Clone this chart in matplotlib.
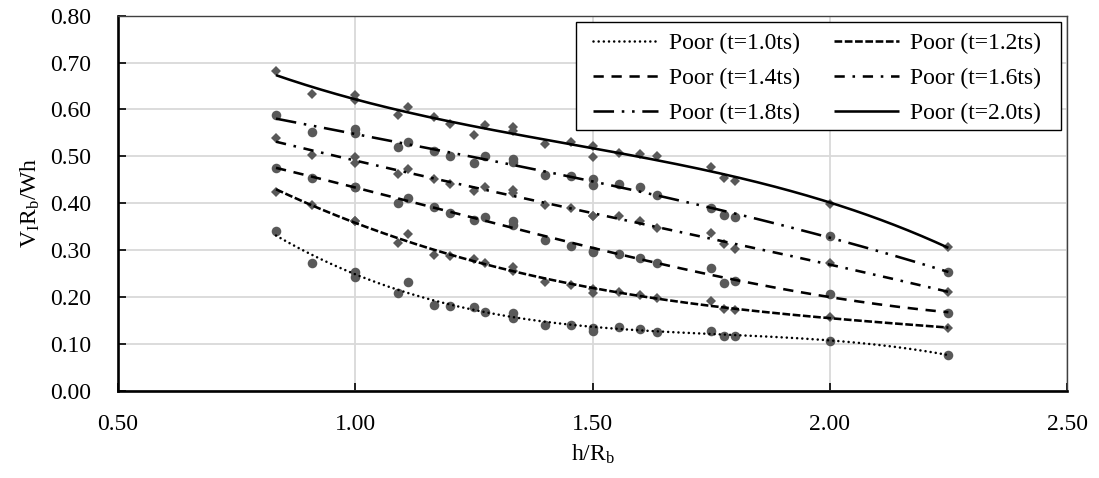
import numpy as np
import matplotlib
matplotlib.use("Agg")
import matplotlib.pyplot as plt
from matplotlib.patches import Rectangle

plt.rcParams['font.family'] = ['Liberation Serif', 'DejaVu Serif']
plt.rcParams['mathtext.fontset'] = 'custom'
plt.rcParams['mathtext.rm'] = 'Liberation Serif'
plt.rcParams['mathtext.it'] = 'Liberation Serif:italic'

# h/Rb values (shared by all series)
x_vals = [0.833, 0.909, 1.0, 1.0, 1.091, 1.111, 1.167, 1.2, 1.25, 1.273, 1.333, 1.333,
          1.4, 1.455, 1.5, 1.5, 1.556, 1.6, 1.636, 1.75, 1.778, 1.8, 2.0, 2.25]

y_t10 = [0.341, 0.272, 0.254, 0.243, 0.208, 0.232, 0.183, 0.181, 0.179, 0.167, 0.165, 0.156,
         0.140, 0.140, 0.134, 0.128, 0.135, 0.132, 0.126, 0.128, 0.117, 0.117, 0.107, 0.076]
y_t12 = [0.424, 0.397, 0.362, 0.362, 0.316, 0.334, 0.290, 0.287, 0.280, 0.273, 0.264, 0.256,
         0.231, 0.225, 0.216, 0.209, 0.211, 0.204, 0.197, 0.192, 0.175, 0.172, 0.157, 0.133]
y_t14 = [0.476, 0.453, 0.435, 0.435, 0.401, 0.411, 0.391, 0.380, 0.364, 0.371, 0.362, 0.353,
         0.321, 0.309, 0.298, 0.296, 0.291, 0.284, 0.273, 0.261, 0.230, 0.235, 0.206, 0.165]
y_t16 = [0.539, 0.502, 0.499, 0.485, 0.462, 0.472, 0.452, 0.441, 0.426, 0.434, 0.429, 0.421,
         0.396, 0.389, 0.372, 0.372, 0.373, 0.362, 0.348, 0.336, 0.313, 0.302, 0.272, 0.211]
y_t18 = [0.589, 0.551, 0.558, 0.549, 0.520, 0.531, 0.512, 0.500, 0.486, 0.500, 0.495, 0.488,
         0.460, 0.458, 0.451, 0.439, 0.441, 0.434, 0.417, 0.390, 0.375, 0.370, 0.330, 0.254]
y_t20 = [0.682, 0.634, 0.630, 0.620, 0.588, 0.605, 0.583, 0.570, 0.545, 0.566, 0.563, 0.554,
         0.526, 0.531, 0.522, 0.499, 0.508, 0.506, 0.500, 0.478, 0.454, 0.448, 0.398, 0.307]

series_labels = ['Poor (t=1.0ts)', 'Poor (t=1.2ts)', 'Poor (t=1.4ts)',
                 'Poor (t=1.6ts)', 'Poor (t=1.8ts)', 'Poor (t=2.0ts)']
x_ticks = [0.50, 1.00, 1.50, 2.00, 2.50]
y_ticks = [0.00, 0.10, 0.20, 0.30, 0.40, 0.50, 0.60, 0.70, 0.80]

series_y = [y_t10, y_t12, y_t14, y_t16, y_t18, y_t20]
markers = ['o', 'D', 'o', 'D', 'o', 'D']
msizes = [6.9, 5.2, 6.9, 5.2, 6.9, 5.2]
styles = [(0, (0.01, 2.0)), (0, (3, 1)), (0, (4, 3)), (0, (4, 3, 1, 3)),
          (0, (8, 3, 1, 3, 1, 3)), '-']
caps = ['round', 'butt', 'butt', 'butt', 'butt', 'butt']

W, H = 1099, 478
fig = plt.figure(figsize=(W / 100, H / 100), dpi=100)
ax = fig.add_axes([118 / W, 1 - 390.7 / H, (1067 - 118) / W, (390.7 - 15.7) / H])

mcol = '#595959'
lw = 1.85
handles = []
x_arr = np.array(x_vals)
for ys, mk, ms, ls, cap, lab in zip(series_y, markers, msizes, styles, caps, series_labels):
    y_arr = np.array(ys)
    ax.plot(x_arr, y_arr, linestyle='none', marker=mk, ms=ms, color=mcol,
            markeredgewidth=0, zorder=3)
    coef = np.polyfit(x_arr, y_arr, 3)
    xf = np.linspace(x_arr.min(), x_arr.max(), 300)
    ln, = ax.plot(xf, np.polyval(coef, xf), color='black', lw=lw, linestyle=ls,
                  dash_capstyle=cap, solid_capstyle='butt', zorder=4, label=lab)
    handles.append(ln)

ax.set_xlim(0.5, 2.5)
ax.set_ylim(0.0, 0.8)
ax.set_xticks(x_ticks)
ax.set_yticks(y_ticks)
ax.set_xticklabels([f'{v:.2f}' for v in x_ticks])
ax.set_yticklabels([f'{v:.2f}' for v in y_ticks])
ax.grid(True, color='#d9d9d9', lw=1.3, zorder=0)
ax.set_axisbelow(True)

for s in ['left', 'bottom']:
    ax.spines[s].set_color('black')
    ax.spines[s].set_linewidth(1.9)
for s in ['top', 'right']:
    ax.spines[s].set_color('#404040')
    ax.spines[s].set_linewidth(1.0)

ax.tick_params(axis='both', direction='in', length=5.5, width=1.2, labelsize=17,
               colors='black')
ax.tick_params(axis='y', pad=19)
ax.tick_params(axis='x', pad=17)

ax.set_xlabel(r'$\mathrm{h/R_b}$', fontsize=17, labelpad=5)
ax.set_ylabel(r'$\mathrm{V_IR_b/Wh}$', fontsize=17, labelpad=6)

# legend frame drawn as a plain rectangle
ax.add_patch(Rectangle((576 / W, 1 - 130 / H), (1061 - 576) / W, (130 - 22) / H,
                       transform=fig.transFigure, facecolor='white', clip_on=False,
                       edgecolor='black', lw=1.0, zorder=9))

order = [0, 2, 4, 1, 3, 5]
leg = ax.legend([handles[i] for i in order], [series_labels[i] for i in order],
                ncol=2, loc='upper left', bbox_to_anchor=(593 / W, 1 - 33 / H),
                bbox_transform=fig.transFigure, borderaxespad=0, borderpad=0,
                fontsize=17, frameon=False,
                handlelength=2.75, handletextpad=0.48, columnspacing=1.43,
                labelspacing=0.56)
leg.set_zorder(10)

fig.savefig('out.png', dpi=100)
